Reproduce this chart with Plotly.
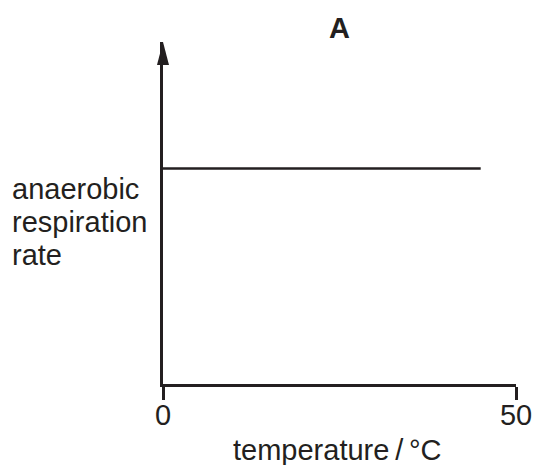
import plotly.graph_objects as go

# data
temperature = [0, 45]
rate = [63, 63]
x_ticks = [0, 50]
x_tick_labels = ["0", "50"]
y_label_lines = ["anaerobic", "respiration", "rate"]

INK = "#231f20"
FONT = "Liberation Sans, Arial, sans-serif"
FS = 29

fig = go.Figure()
fig.add_trace(go.Scatter(x=temperature, y=rate, mode="lines",
                         line=dict(color=INK, width=2.5), showlegend=False,
                         hoverinfo="skip"))

fig.update_layout(
    width=534, height=465,
    margin=dict(l=163, r=18, t=42, b=81, autoexpand=False),
    paper_bgcolor="white", plot_bgcolor="white",
    font=dict(family=FONT, color=INK, size=FS),
    xaxis=dict(range=[0, 50], showgrid=False, zeroline=False, automargin=False,
               showline=True, linecolor=INK, linewidth=2.5,
               ticks="outside", ticklen=13, tickwidth=2.5, tickcolor=INK,
               tickvals=x_ticks, ticktext=x_tick_labels,
               ticklabelstandoff=-10,
               tickfont=dict(size=FS, family=FONT, color=INK)),
    yaxis=dict(range=[0, 100], showgrid=False, zeroline=False, automargin=False,
               showline=True, linecolor=INK, linewidth=2.5,
               showticklabels=False, ticks=""),
)

# arrowhead on y axis
fig.add_shape(type="path", xref="paper", yref="paper",
              path="M -0.017 0.9327 L 0 1 L 0.017 0.9327 Z",
              fillcolor=INK, line=dict(color=INK, width=0))

fig.add_annotation(text="<b>A</b>", xref="paper", yref="paper",
                   x=0.4986, y=1.041, xanchor="center", yanchor="middle",
                   showarrow=False, font=dict(size=FS, family=FONT, color=INK))

# y label, one line per annotation for tighter line spacing
for i, line in enumerate(y_label_lines):
    ypix = 188.7 + 33 * i
    fig.add_annotation(text=line, xref="paper", yref="paper",
                       x=-0.433, y=(384 - ypix) / 342, xanchor="left", yanchor="middle",
                       showarrow=False, font=dict(size=FS, family=FONT, color=INK))

fig.add_annotation(text="temperature\u2009/\u2009°C", xref="paper", yref="paper",
                   x=0.493, y=-0.193, xanchor="center", yanchor="middle",
                   showarrow=False, font=dict(size=FS, family=FONT, color=INK))

fig.write_html("out.html", config={"displayModeBar": False},
               post_script="document.body.style.margin='0';")
